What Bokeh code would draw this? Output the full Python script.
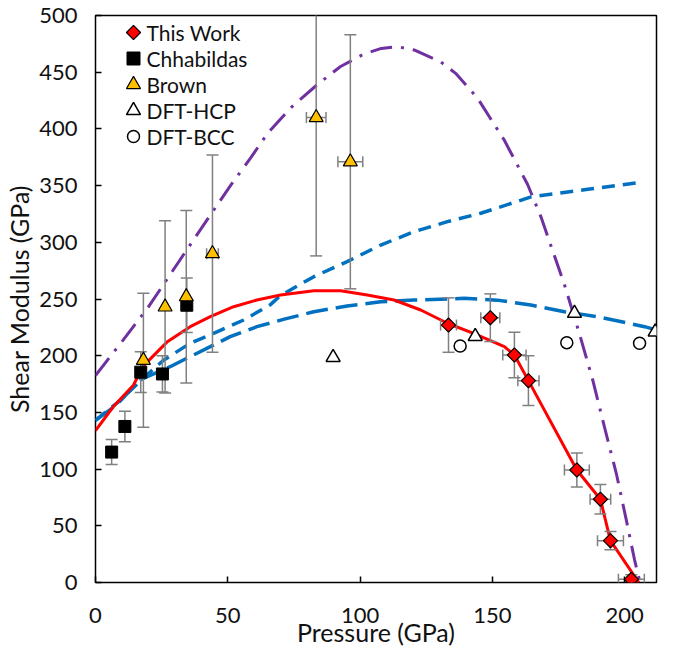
import math

from bokeh.core.properties import value
from bokeh.embed import file_html
from bokeh.models import FixedTicker, Range1d
from bokeh.plotting import figure
from bokeh.resources import INLINE

# ---- measured data -------------------------------------------------------
# This Work: pressure (GPa), shear modulus (GPa) and their uncertainties
tw_p = [133.4, 149.2, 158.3, 163.6, 181.9, 190.8, 194.6, 202.5]
tw_g = [227.0, 233.5, 200.6, 178.0, 99.2, 73.4, 36.9, 2.8]
tw_perr = [3.0, 3.6, 4.4, 4.0, 4.7, 3.9, 4.9, 4.9]
tw_gerr = [24.0, 21.0, 20.0, 22.0, 15.0, 13.0, 8.0, 4.0]

# Chhabildas
ch_p = [6.1, 11.1, 17.1, 25.3, 34.5]
ch_g = [115.0, 137.6, 185.5, 183.9, 244.5]
ch_gerr = [11.0, 13.5, 18.0, 16.0, 24.0]

# Brown
br_p = [18.1, 26.3, 34.3, 44.2, 83.4, 96.3]
br_g = [196.0, 243.0, 252.0, 290.0, 410.0, 371.0]
br_perr = [0.0, 0.0, 0.0, 2.2, 3.7, 4.7]
br_gerr = [59.0, 76.0, 76.0, 87.0, 122.0, 112.0]

# DFT results
hcp_p = [89.8, 143.5, 181.0, 211.5]
hcp_g = [198.5, 217.0, 237.4, 221.0]
bcc_p = [137.8, 178.1, 205.6]
bcc_g = [208.5, 211.5, 211.0]

# ---- model curves --------------------------------------------------------
red_p = [0, 6.7, 14.3, 18.1, 27, 35.8, 43.4, 52.2, 61, 69.9, 82.5, 92.6, 102.7,
         112.8, 122.9, 133, 143.1, 154.5, 158.3, 163.6, 181.9, 190.8, 194.6, 205.3]
red_g = [134, 155, 174, 191, 212, 225.6, 234.4, 243.2, 249.1, 253.5, 257.3, 257.3,
         253.5, 249.1, 240.3, 228.6, 219.5, 208, 200.6, 178, 99.2, 73.4, 36.9, 0]

purple_p = [0, 10.5, 20, 29.5, 39.6, 51, 58.5, 65, 74, 83.8, 92.6, 101.4, 108,
            114.1, 120.4, 130.5, 136.1, 144.4, 154.5, 163.3, 168.4, 177.3, 182.8,
            187.9, 192.3, 196.8, 200.6, 203.7, 206.2]
purple_g = [182.5, 214, 243, 276, 311, 350, 374, 396, 419, 439, 455, 466, 471,
            472.5, 469.6, 459, 449, 427, 390, 351, 322, 262, 220, 178.6,
            137.4, 96.3, 55, 20, -4]

blue_hi_p = [0, 9, 18, 25.7, 35.8, 45.9, 56, 66.1, 69.9, 82.5, 95.1, 107.8,
             120.4, 133, 145.6, 164.6, 186, 205]
blue_hi_g = [143, 160, 180, 196, 211, 221, 231.5, 245, 253, 269.7, 283, 297.6,
             309.4, 318.2, 325.6, 340, 346.7, 352.5]

blue_lo_p = [0, 7.9, 16.8, 28.2, 34.5, 43.4, 50.9, 61, 71, 82.5, 95.1, 107.8,
             120.4, 133, 139.3, 145.6, 151.9, 164.5, 177.2, 189.8, 207.5, 212]
blue_lo_g = [143, 156.5, 178.6, 190.3, 197.7, 208, 216.8, 225.6, 232, 238.8,
             243.8, 247.6, 249.1, 250, 250.6, 249.7, 249, 244.7, 238.8, 234.4,
             225.6, 222.7]

x_ticks = [0, 50, 100, 150, 200]
y_ticks = [0, 50, 100, 150, 200, 250, 300, 350, 400, 450, 500]

legend_labels = ["This Work", "Chhabildas", "Brown", "DFT-HCP", "DFT-BCC"]

FONT = "Lato"
INK = "#111111"
ERR = "#808080"
W, H = 673, 652
LEFT, RIGHT, TOP, BOTTOM = 95, 17, 15, 70
FRAME_W, FRAME_H = W - LEFT - RIGHT, H - TOP - BOTTOM

p = figure(width=W, height=H, x_range=Range1d(0, 212), y_range=Range1d(0, 500),
           output_backend="svg", toolbar_location=None,
           min_border_left=LEFT, min_border_right=RIGHT, min_border_top=TOP,
           min_border_bottom=BOTTOM)
p.xgrid.visible = False
p.ygrid.visible = False
p.outline_line_color = "black"
p.outline_line_width = 1.5
p.outline_line_alpha = 1.0
p.background_fill_color = "white"
p.border_fill_color = "white"

# pixel-based ranges used to place the key inside the frame
p.extra_x_ranges = {"key_x": Range1d(0, FRAME_W)}
p.extra_y_ranges = {"key_y": Range1d(0, FRAME_H)}

p.xaxis.ticker = FixedTicker(ticks=x_ticks)
p.yaxis.ticker = FixedTicker(ticks=y_ticks)
for ax in p.axis:
    ax.axis_line_color = None
    ax.major_tick_in = 6
    ax.major_tick_out = 0
    ax.major_tick_line_color = "black"
    ax.major_tick_line_width = 1.5
    ax.minor_tick_line_color = None
    ax.major_label_text_font = FONT
    ax.major_label_text_font_size = "22px"
    ax.major_label_text_color = INK
    ax.axis_label_text_font = FONT
    ax.axis_label_text_font_size = "25px"
    ax.axis_label_text_font_style = "normal"
    ax.axis_label_text_color = INK
p.xaxis.axis_label = "Pressure (GPa)"
p.yaxis.axis_label = "Shear Modulus (GPa)"
p.xaxis.major_label_standoff = 25
p.yaxis.major_label_standoff = 18
p.xaxis.axis_label_standoff = -9
p.yaxis.axis_label_standoff = 2

# ---- model curves --------------------------------------------------------
p.line(purple_p, purple_g, line_color="#7030A0", line_width=3, line_dash="22 9 3 9")
p.line(blue_hi_p, blue_hi_g, line_color="#0070C0", line_width=3.5, line_dash="13 8")
p.line(blue_lo_p, blue_lo_g, line_color="#0070C0", line_width=3.5, line_dash="22 8")
p.line(red_p, red_g, line_color="#FF0000", line_width=3)


def y_errors(xs, ys, errs):
    lo = [y - e for y, e in zip(ys, errs)]
    hi = [y + e for y, e in zip(ys, errs)]
    p.segment(xs, lo, xs, hi, line_color=ERR, line_width=1.5)
    p.scatter(xs + xs, lo + hi, marker="dash", size=12, line_color=ERR, line_width=1.5)


def x_errors(xs, ys, errs):
    keep = [i for i, e in enumerate(errs) if e > 0]
    xs = [xs[i] for i in keep]
    ys = [ys[i] for i in keep]
    errs = [errs[i] for i in keep]
    lo = [x - e for x, e in zip(xs, errs)]
    hi = [x + e for x, e in zip(xs, errs)]
    p.segment(lo, ys, hi, ys, line_color=ERR, line_width=1.5)
    p.scatter(lo + hi, ys + ys, marker="dash", size=11, angle=math.pi / 2,
              line_color=ERR, line_width=1.5)


y_errors(ch_p, ch_g, ch_gerr)
y_errors(br_p, br_g, br_gerr)
x_errors(br_p, br_g, br_perr)
y_errors(tw_p, tw_g, tw_gerr)
x_errors(tw_p, tw_g, tw_perr)

# ---- markers -------------------------------------------------------------
STYLES = [
    dict(marker="square", angle=math.pi / 4, size=10, fill_color="#FF0000",
         line_color="black", line_width=1.2),                      # This Work
    dict(marker="square", angle=0, size=12, fill_color="black",
         line_color="black", line_width=1.0),                      # Chhabildas
    dict(marker="triangle", angle=0, size=14, fill_color="#FFC000",
         line_color="black", line_width=1.2),                      # Brown
    dict(marker="triangle", angle=0, size=14, fill_color="white",
         line_color="black", line_width=1.5),                      # DFT-HCP
    dict(marker="circle", angle=0, size=12, fill_color="white",
         line_color="black", line_width=1.5),                      # DFT-BCC
]
series = [(tw_p, tw_g), (ch_p, ch_g), (br_p, br_g), (hcp_p, hcp_g), (bcc_p, bcc_g)]
for i in [4, 3, 1, 2, 0]:
    xs, ys = series[i]
    p.scatter(xs, ys, **STYLES[i])

# ---- key (pixel offsets from the frame's lower-left corner) --------------
KEY_X, KEY_TEXT_X, KEY_TOP, KEY_STEP = 38, 51, FRAME_H - 17, 26
for i, label in enumerate(legend_labels):
    ky = KEY_TOP - i * KEY_STEP
    style = dict(STYLES[i])
    if i == 1:
        style["size"] = 13
    p.scatter([KEY_X], [ky], x_range_name="key_x", y_range_name="key_y", **style)
    p.text([KEY_TEXT_X], [ky], text=[label], x_range_name="key_x",
           y_range_name="key_y", text_font=value(FONT), text_font_size="21px",
           text_color=INK, text_baseline="middle", text_align="left")

open("out.html", "w").write(file_html(p, INLINE))
